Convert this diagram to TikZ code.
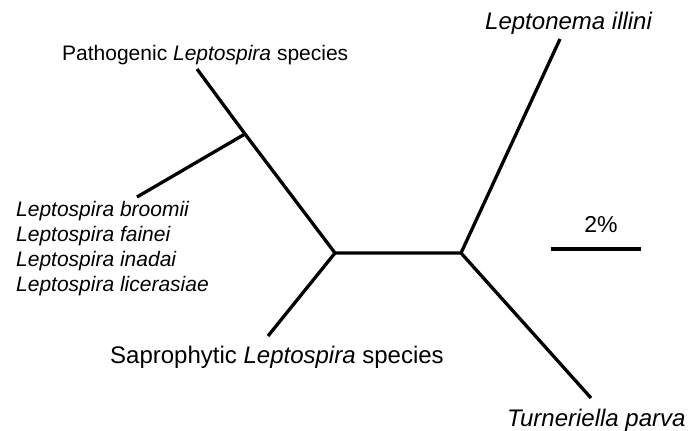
\documentclass[tikz,border=0pt]{standalone}
\usepackage{fontspec}
\setmainfont{Liberation Sans}
\begin{document}
\begin{tikzpicture}[x=1pt,y=-1pt,
  branch/.style={line width=3.3pt,line cap=butt,line join=miter},
  lbl/.style={inner sep=0pt,anchor=base west},
  smalltxt/.style={font=\fontsize{21}{24}\selectfont},
  bigtxt/.style={font=\fontsize{24}{28}\selectfont}]
\useasboundingbox (0,0) rectangle (694,431);
% tree coordinates
\coordinate (patho) at (197,69);
\coordinate (pj) at (245,134);
\coordinate (broom) at (137,197);
\coordinate (cl) at (335,253);
\coordinate (cr) at (461,253);
\coordinate (sapro) at (268,336);
\coordinate (lepto) at (560,39);
\coordinate (turn) at (591,398);
\coordinate (sbl) at (551,249);
\coordinate (sbr) at (641,249);
% branches
\draw[branch] (patho) -- (pj) -- (cl) -- (cr) -- (lepto);
\draw[branch] (broom) -- (pj);
\draw[branch] (sapro) -- (cl);
\draw[branch] (cr) -- (turn);
\draw[branch] (sbl) -- (sbr);
% labels
\node[lbl,smalltxt] (tpatho) at (62,60) {Pathogenic \textit{Leptospira} species};
\node[lbl,bigtxt] (tsapro) at (110,363) {Saprophytic \textit{Leptospira} species};
\node[lbl,bigtxt] (tlepto) at (485,30) {\textit{Leptonema illini}};
\node[lbl,bigtxt] (tturn) at (507,426) {\textit{Turneriella parva}};
\node[inner sep=0pt,anchor=base,font=\fontsize{23}{27}\selectfont] (tscale) at (601,232) {2\%};
\node[inner sep=0pt,anchor=base west,align=left,smalltxt] (tlist) at (16,291)
  {\textit{Leptospira broomii}\\[0.7pt]\textit{Leptospira fainei}\\[0.7pt]\textit{Leptospira inadai}\\[0.7pt]\textit{Leptospira licerasiae}};
\end{tikzpicture}
\end{document}
